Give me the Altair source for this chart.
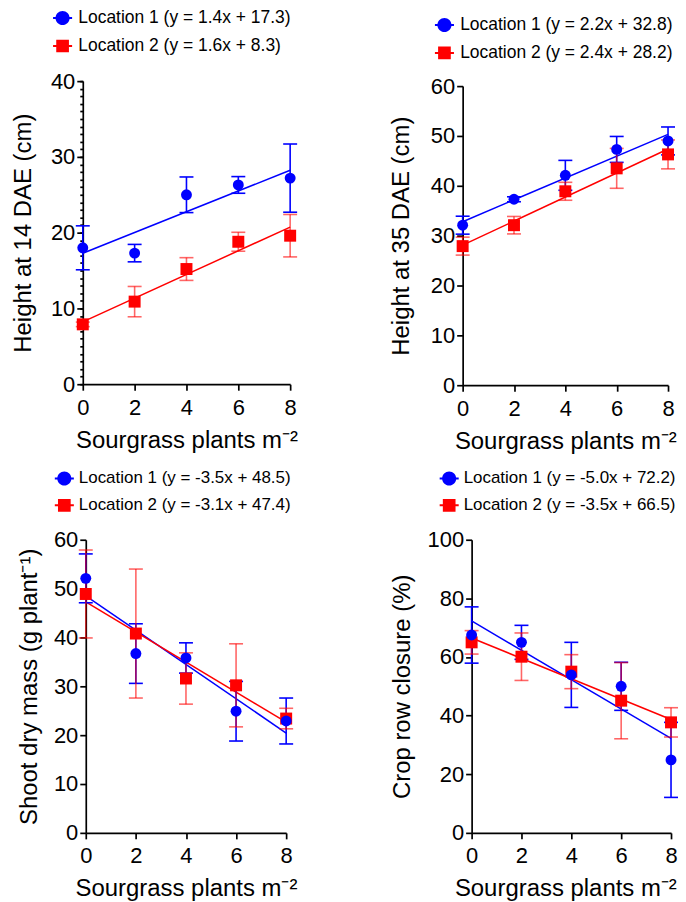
import altair as alt
import pandas as pd

FONT = "Liberation Sans"
BLUE = "#0000FF"
RED = "#FF0000"

density = [0, 2, 4, 6, 8]

# Height at 14 DAE
h14_loc1_mean = [18.0, 17.3, 25.0, 26.3, 27.2]
h14_loc1_sd = [2.9, 1.15, 2.35, 1.1, 4.5]
h14_loc2_mean = [7.9, 10.9, 15.2, 18.8, 19.6]
h14_loc2_sd = [0.3, 2.0, 1.5, 1.25, 2.8]
h14_labels = ["Location 1 (y = 1.4x + 17.3)", "Location 2 (y = 1.6x + 8.3)"]

# Height at 35 DAE
h35_loc1_mean = [32.1, 37.3, 42.1, 47.3, 49.0]
h35_loc1_sd = [1.8, 0.5, 3.0, 2.6, 2.8]
h35_loc2_mean = [27.9, 32.1, 38.9, 43.5, 46.3]
h35_loc2_sd = [1.8, 1.75, 1.8, 4.0, 2.9]
h35_labels = ["Location 1 (y = 2.2x + 32.8)", "Location 2 (y = 2.4x + 28.2)"]

# Shoot dry mass
sdm_loc1_mean = [52.1, 36.7, 35.8, 24.9, 22.9]
sdm_loc1_sd = [5.0, 6.1, 3.1, 6.1, 4.7]
sdm_loc2_mean = [48.9, 40.8, 31.6, 30.2, 23.4]
sdm_loc2_sd = [9.0, 13.2, 5.25, 8.5, 2.1]
sdm_labels = ["Location 1 (y = -3.5x + 48.5)", "Location 2 (y = -3.1x + 47.4)"]

# Crop row closure
crc_loc1_mean = [67.5, 65.0, 53.9, 50.0, 24.9]
crc_loc1_sd = [9.6, 5.8, 11.1, 8.2, 12.8]
crc_loc2_mean = [65.0, 60.1, 55.0, 45.1, 37.7]
crc_loc2_sd = [4.0, 8.1, 5.8, 13.0, 5.0]
crc_labels = ["Location 1 (y = -5.0x + 72.2)", "Location 2 (y = -3.5x + 66.5)"]

minor_ticks_14 = list(range(0, 41))

X_TITLE = "Sourgrass plants m\u207b\u00b2"

CIRCLE_KEY = "M-1.35,-0.14H1.35V0.14H-1.35Z M1,0A1,1,0,1,1,-1,0A1,1,0,1,1,1,0Z"
SQUARE_KEY = "M-1.35,-0.14H1.35V0.14H-1.35Z M-0.9,-0.9H0.9V0.9H-0.9Z"


def make_df(m1, s1, m2, s2, labels):
    rows = []
    for i, (m, s) in enumerate([(m1, s1), (m2, s2)]):
        for x, mv, sv in zip(density, m, s):
            rows.append({"x": x, "y": mv, "sd": sv, "series": labels[i], "loc": i + 1})
    return pd.DataFrame(rows)


def panel(df, labels, ytitle, ymax, ystep, w, h, lx, ly, ytp,
          xoff=0, ytop=0, minor=None, lfs=17.5, loff=7, title_x=None):
    xs = alt.Scale(domain=[0, 8], nice=False, range=[xoff, w])
    ys = alt.Scale(domain=[0, ymax], nice=False, range=[h, ytop])
    xkw = dict(values=density, title=X_TITLE, labelFlush=False, labelPadding=7, titlePadding=10)
    if title_x is not None:
        xkw["titleX"] = title_x
    xaxis = alt.Axis(**xkw)
    yaxis = alt.Axis(values=list(range(0, ymax + 1, ystep)), title=ytitle,
                     titlePadding=ytp, labelPadding=2, orient="left", offset=-xoff)
    leg = alt.Legend(title=None, orient="none", legendX=lx, legendY=ly,
                     direction="vertical", labelFont=FONT, labelFontSize=lfs,
                     labelColor="black", labelLimit=500, symbolSize=200,
                     rowPadding=9, labelOffset=loff, padding=0,
                     symbolStrokeWidth=0, symbolOpacity=1)
    color = alt.Color("series:N", scale=alt.Scale(domain=labels, range=[BLUE, RED]), legend=leg)
    shape = alt.Shape("series:N", scale=alt.Scale(domain=labels, range=[CIRCLE_KEY, SQUARE_KEY]), legend=leg)
    base = alt.Chart(df)
    X = alt.X("x:Q", scale=xs, axis=xaxis)
    Y = alt.Y("y:Q", scale=ys, axis=yaxis)

    key = base.transform_filter("false").mark_point(filled=True, opacity=1).encode(
        x=X, y=Y, color=color, shape=shape)
    fit = base.transform_regression("x", "y", groupby=["series"]).mark_line(strokeWidth=1.5).encode(
        x=X, y=Y, color=color)

    def bars(loc, op):
        return base.transform_filter(f"datum.loc == {loc}").transform_calculate(
            lo="datum.y - datum.sd", hi="datum.y + datum.sd").mark_errorbar(
            ticks={"size": 14}, thickness=1.6, opacity=op).encode(
            x=X, y=alt.Y("lo:Q", scale=ys, axis=yaxis), y2="hi:Q", color=color)

    red = base.transform_filter("datum.loc == 2").mark_point(
        shape="square", filled=True, size=144, opacity=1).encode(x=X, y=Y, color=color)
    blue = base.transform_filter("datum.loc == 1").mark_point(
        shape="circle", filled=True, size=120, opacity=1).encode(x=X, y=Y, color=color)
    inner = alt.layer(key, fit, bars(1, 1), bars(2, 0.6), red, blue)
    if minor is not None:
        mt = alt.Chart(pd.DataFrame({"v": [0]})).mark_point(opacity=0).encode(
            y=alt.Y("v:Q", scale=ys, axis=alt.Axis(values=minor, labels=False, domain=False,
                                                   tickSize=3, title=None, orient="left",
                                                   offset=-xoff)))
        ch = alt.layer(inner, mt).resolve_axis(y="independent")
    else:
        ch = inner
    return ch.properties(width=w, height=h)


p1 = panel(make_df(h14_loc1_mean, h14_loc1_sd, h14_loc2_mean, h14_loc2_sd, h14_labels),
           h14_labels, "Height at 14 DAE (cm)", 40, 10, 208, 304, -29, -72, 15,
           minor=minor_ticks_14)
p2 = panel(make_df(h35_loc1_mean, h35_loc1_sd, h35_loc2_mean, h35_loc2_sd, h35_labels),
           h35_labels, "Height at 35 DAE (cm)", 60, 10, 206, 305, -27, -65, 17, ytop=5)
p3 = panel(make_df(sdm_loc1_mean, sdm_loc1_sd, sdm_loc2_mean, sdm_loc2_sd, sdm_labels),
           sdm_labels, "Shoot dry mass (g plant\u207b\u00b9)", 60, 10, 204, 294, -27, -70, 12,
           xoff=3, lfs=17, loff=6)
p4 = panel(make_df(crc_loc1_mean, crc_loc1_sd, crc_loc2_mean, crc_loc2_sd, crc_labels),
           crc_labels, "Crop row closure (%)", 100, 20, 209, 294, -22, -70, 13, xoff=9,
           lfs=17, loff=6, title_x=103)

chart = alt.concat(p1, p2, p3, p4, columns=2, bounds="flush",
                   spacing={"row": 155, "column": 173}).resolve_scale(
    color="independent", shape="independent"
).properties(
    padding={"left": 3, "top": 0, "right": 0, "bottom": 0}
).configure_view(stroke=None).configure_axis(
    labelFont=FONT, titleFont=FONT, labelFontSize=22, titleFontSize=24,
    labelColor="black", titleColor="black", domainColor="black", tickColor="black",
    domainWidth=1.7, tickWidth=1.7, tickSize=6, grid=False, titleFontWeight="normal"
)

chart.save("out.html", embed_options={"renderer": "svg", "actions": False})
